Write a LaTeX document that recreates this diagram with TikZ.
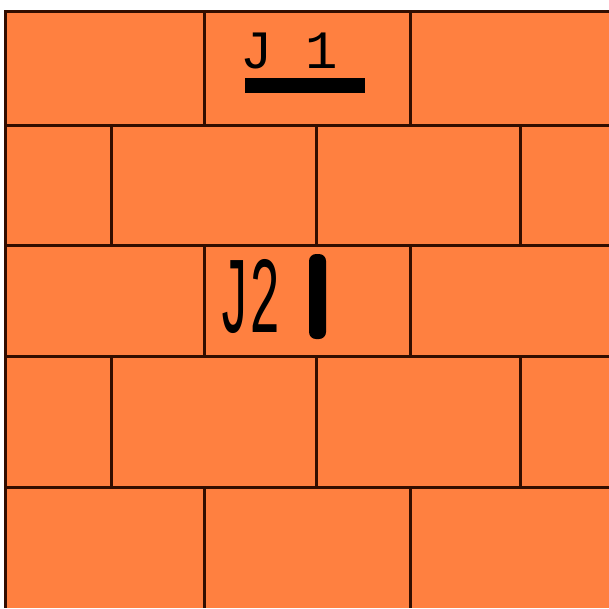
\documentclass[tikz,border=0pt]{standalone}
\usepackage{fontspec}
\newfontfamily\monofont{Liberation Mono}
\definecolor{brick}{RGB}{255,128,64}
\definecolor{mortar}{RGB}{50,14,0}
\begin{document}
\begin{tikzpicture}[x=1pt,y=-1pt,
  joint/.style={line width=3pt,draw=mortar},
  bar/.style={fill=black,draw=none},
  lbl/.style={inner sep=0pt,font=\monofont}]
\useasboundingbox (0,0) rectangle (609,608);
\fill[white] (0,0) rectangle (609,608);
\fill[brick] (5,11) rectangle (609,608);
% horizontal joints
\foreach \y in {11,125,245,356,487} \draw[joint] (4,\y) -- (609,\y);
\draw[joint] (5,10) -- (5,608);
% odd rows
\foreach \a/\b in {11/125,245/356,487/608}
  \foreach \x in {204,410} \draw[joint] (\x,\a) -- (\x,\b);
% even rows
\foreach \a/\b in {125/245,356/487}
  \foreach \x in {111,316,520} \draw[joint] (\x,\a) -- (\x,\b);
% labels
\node[lbl,font=\monofont\fontsize{54}{54}\selectfont,anchor=base] (j1) at (289,68) {J 1};
\node[bar] (b1) at (305,85.5) [minimum width=120pt,minimum height=15pt,inner sep=0pt] {};
\node[lbl,font=\monofont\fontsize{52}{52}\selectfont,anchor=base,yscale=2.1] (j2) at (250,332) {J2};
\fill[black,rounded corners=7pt] (309,254) rectangle (326,339);
\end{tikzpicture}
\end{document}
